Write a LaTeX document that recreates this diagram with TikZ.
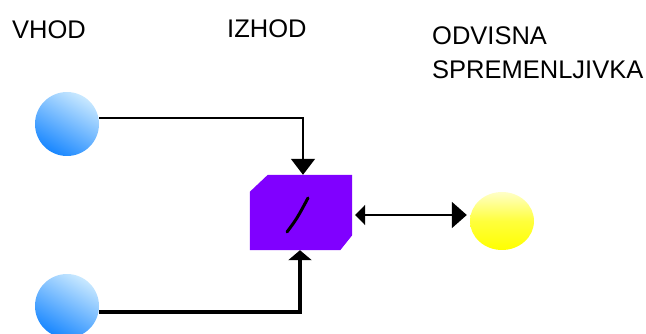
\documentclass[tikz,border=0pt]{standalone}
\usepackage{fontspec}
\setmainfont{Liberation Sans}
\usetikzlibrary{arrows.meta,shapes.geometric,calc}
\definecolor{boxviolet}{RGB}{128,0,255}
\definecolor{bluedark}{RGB}{25,135,255}
\definecolor{bluelight}{RGB}{200,232,255}
\definecolor{yelpale}{RGB}{255,255,200}
\definecolor{yelfull}{RGB}{255,255,0}
\begin{document}
\begin{tikzpicture}[x=1pt,y=-1pt,
  lbl/.style={anchor=base west,inner sep=0pt,font=\fontsize{25.5}{30}\selectfont},
  blueball/.style={circle,minimum size=64pt,inner sep=0pt,top color=bluelight,bottom color=bluedark,shading angle=-30},
  yelball/.style={ellipse,minimum width=64pt,minimum height=58pt,inner sep=0pt,top color=yelpale,bottom color=yelfull,middle color=yelfull!70!yelpale},
  vbox/.style={rectangle,minimum width=102pt,minimum height=75pt,inner sep=0pt},
  thinline/.style={line width=1.6pt,black},
  thickline/.style={line width=4pt,black}]
\useasboundingbox (0,0) rectangle (646,334);

\node[lbl] (vhod) at (12,39) {VHOD};
\node[lbl] (izhod) at (227,38) {IZHOD};
\node[lbl] (odv) at (432,45) {ODVISNA};
\node[lbl] (spr) at (432,79) {SPREMENLJIVKA};

\node[blueball] (in1) at (67,124) {};
\node[blueball] (in2) at (67,306) {};
\node[vbox] (box) at (301,212.5) {};
\fill[boxviolet] ($(box.north west)+(18,0)$) -- (box.north east) -- ($(box.south east)+(0,-15)$)
  -- ($(box.south east)+(-12,0)$) -- (box.south west) -- ($(box.north west)+(0,17)$) -- cycle;
\node[yelball] (out) at (502,221) {};

\draw[line width=3pt,line cap=round] ($(box.center)+(-14,19.5)$) .. controls ($(box.center)+(-4,6)$) .. ($(box.center)+(7,-14.5)$);

\draw[thinline,-{Triangle[width=24pt,length=16pt]}] ([yshift=6pt]in1.east) -| ([xshift=2pt]box.north);
\draw[thickline,-{Triangle[width=23pt,length=10pt]}] ([yshift=-6pt]in2.east) -| ([xshift=-1pt]box.south);
\draw[line width=2pt,{Triangle[width=20pt,length=10pt]}-{Triangle[width=26pt,length=15pt]},shorten <=3pt,shorten >=3pt]
  ([yshift=-2.5pt]box.east) -- ([yshift=-2.5pt]box.east -| out.west);
\end{tikzpicture}
\end{document}
